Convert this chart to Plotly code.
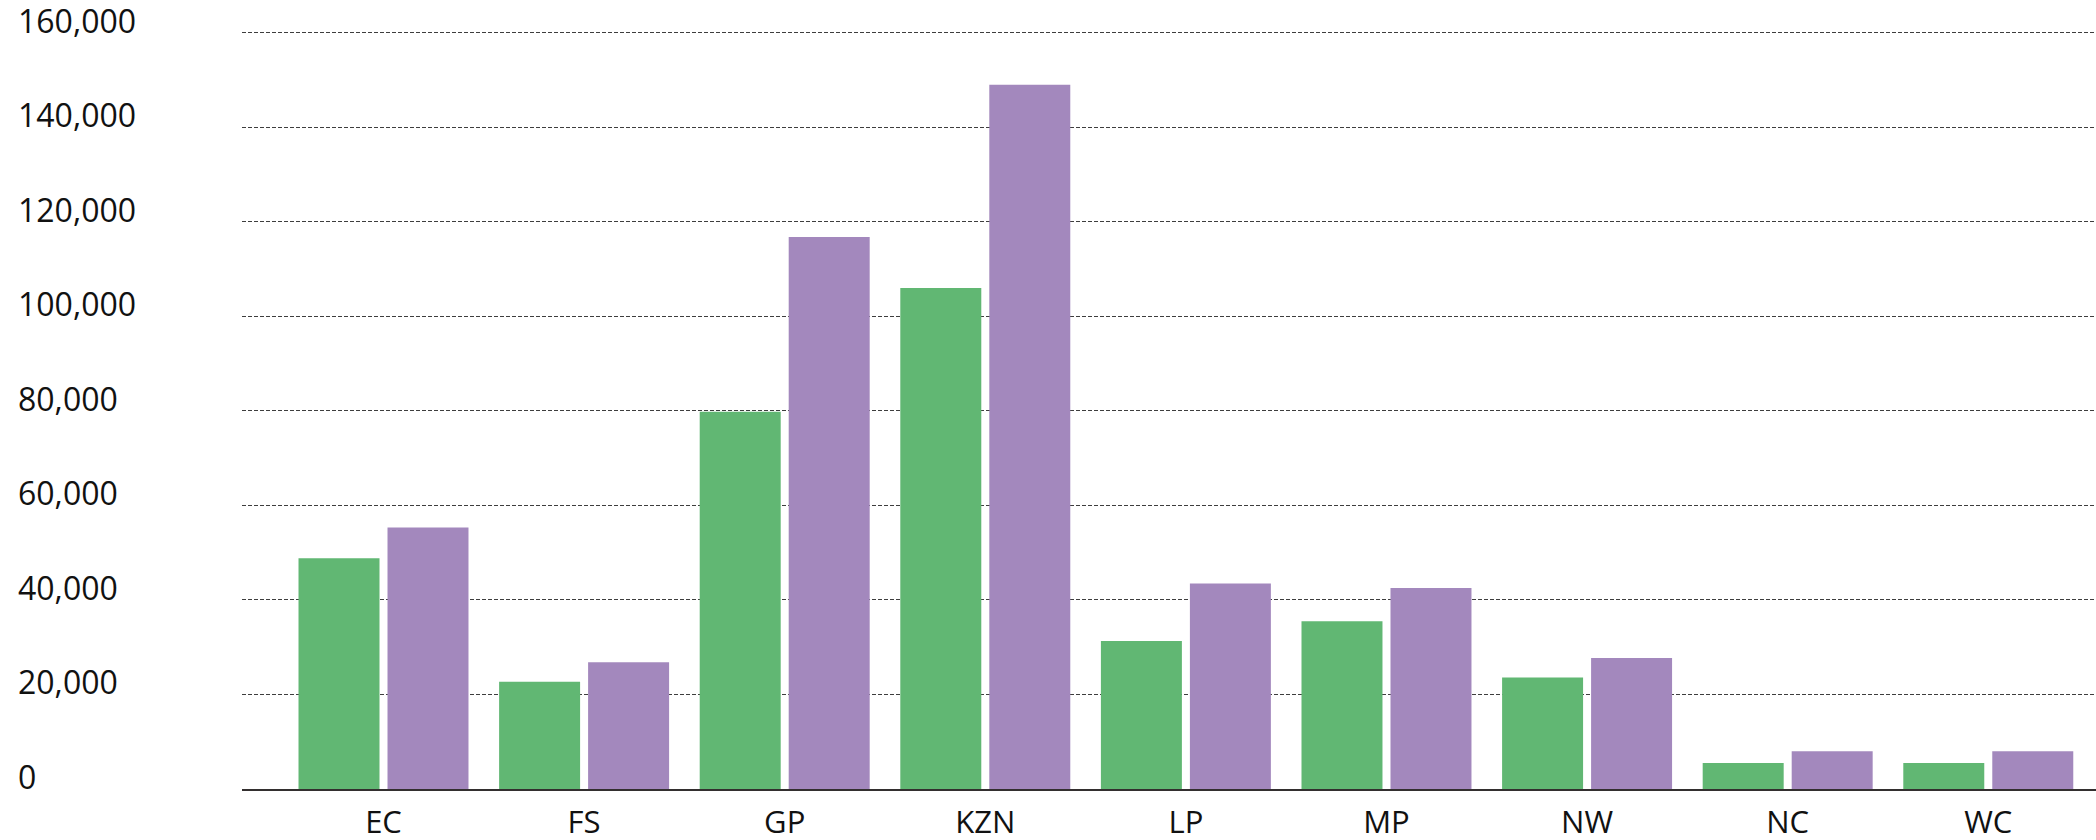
import plotly.graph_objects as go

# Provinces and the two series per province
provinces = ["EC", "FS", "GP", "KZN", "LP", "MP", "NW", "NC", "WC"]
series_a = [48800, 22700, 79800, 106000, 31300, 35500, 23600, 5500, 5500]
series_b = [55300, 26800, 116800, 149000, 43500, 42500, 27700, 8000, 8000]

y_ticks = [0, 20000, 40000, 60000, 80000, 100000, 120000, 140000, 160000]
y_tick_labels = ["0", "20,000", "40,000", "60,000", "80,000",
                 "100,000", "120,000", "140,000", "160,000"]

GREEN = "#61b773"
PURPLE = "#a388bd"
FONT = "Open Sans"

W, H = 2096, 840
M_L, M_R, M_T, M_B = 242, 0, 27.5, 51
Y_MAX = 161000  # a little headroom so the 160,000 gridline is drawn

fig = go.Figure()
fig.add_trace(go.Bar(x=provinces, y=series_a, marker_color=GREEN,
                     marker_line_width=0, name="A"))
fig.add_trace(go.Bar(x=provinces, y=series_b, marker_color=PURPLE,
                     marker_line_width=0, name="B"))

# y labels sit left-aligned at the far left, just above their gridlines
plot_w = W - M_L - M_R
label_x = (16 - M_L) / plot_w
for v, t in zip(y_ticks, y_tick_labels):
    fig.add_annotation(x=label_x, xref="paper", y=v, yref="y",
                       text=t, showarrow=False, xanchor="left",
                       yanchor="bottom", yshift=-11,
                       font=dict(family=FONT, size=32, color="#111111"))

fig.update_layout(
    width=W, height=H,
    margin=dict(l=M_L, r=M_R, t=M_T, b=M_B, pad=0),
    paper_bgcolor="white", plot_bgcolor="white",
    showlegend=False,
    barmode="group", bargap=0.1127, bargroupgap=0.09,
    font=dict(family=FONT, color="#111111"),
)
fig.update_xaxes(
    range=[-0.7054, 8.537], automargin=False,
    showgrid=False, zeroline=False,
    showline=True, linecolor="#332f2f", linewidth=2,
    ticks="", tickfont=dict(family=FONT, size=31, color="#111111"),
    ticklabelstandoff=5,
)
fig.update_yaxes(
    range=[0, Y_MAX], automargin=False,
    tickvals=y_ticks, showticklabels=False,
    showgrid=True, gridcolor="#3e3e3e", gridwidth=1, griddash="4px,2px",
    zeroline=False, showline=False, ticks="",
)

fig.write_html("out.html")
